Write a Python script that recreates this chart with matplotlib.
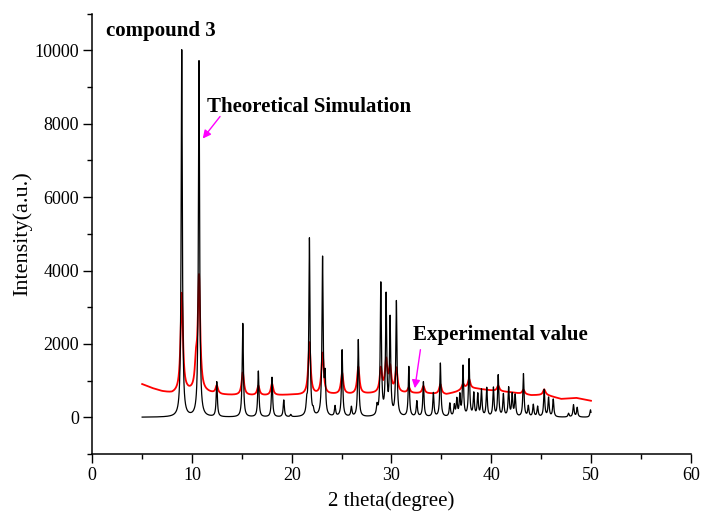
import numpy as np
import matplotlib
matplotlib.use("Agg")
import matplotlib.pyplot as plt
from matplotlib.ticker import MultipleLocator

plt.rcParams['font.family'] = ['Liberation Serif', 'DejaVu Serif']

# theoretical (simulated) pattern: peak positions (2theta) and heights
sim_pos = [8.97, 10.70, 12.48, 15.09, 16.65, 18.02, 19.20, 19.90, 21.50, 21.77,
           22.15, 23.09, 23.34, 24.34, 25.05, 25.98, 26.67, 28.55, 28.93, 29.46,
           29.86, 30.49, 31.74, 32.54, 33.20, 34.20, 34.90, 35.85, 36.30, 36.55,
           36.85, 37.17, 37.78, 38.25, 38.65, 39.02, 39.55, 40.22, 40.70, 41.22,
           41.75, 42.10, 42.40, 43.23, 43.72, 44.22, 44.65, 45.31, 45.75, 46.22,
           47.75, 48.25, 48.62, 49.95]
sim_int = [10000, 9700, 950, 2550, 1250, 1080, 460, 60, 300, 4850,
           120, 4300, 1000, 280, 1820, 260, 2100, 250, 3600, 3250,
           2620, 3120, 1360, 420, 950, 650, 1460, 360, 300, 460,
           560, 1360, 1550, 620, 600, 720, 780, 780, 1120, 600,
           780, 600, 580, 1170, 290, 330, 280, 740, 520, 480,
           100, 330, 260, 200]

# experimental pattern: background and peaks above it
bg_pos = [5, 6, 7, 8, 9.5, 11.5, 13, 14, 16, 18, 20, 22, 24, 26, 28, 30,
          32, 34, 35.5, 36.5, 37.5, 38.5, 40, 42, 44, 45.5, 47, 48.5, 50]
bg_int = [900, 790, 700, 640, 680, 660, 610, 600, 590, 590, 610, 600, 620, 620, 640, 660,
          650, 640, 620, 690, 790, 780, 730, 680, 600, 610, 500, 530, 450]
exp_pos = [8.97, 10.40, 10.70, 12.48, 15.09, 16.65, 18.02, 21.77, 23.09, 25.05,
           26.67, 28.93, 29.46, 29.86, 30.49, 31.74, 33.20, 34.90, 37.17, 37.78,
           40.70, 43.23, 45.31]
exp_int = [2700, 650, 3100, 220, 620, 260, 320, 1430, 1130, 580,
           740, 650, 850, 650, 650, 150, 200, 270, 150, 250,
           150, 120, 150]

x = np.linspace(5, 50, 4501)


def pattern(pos, amp, gam):
    y = np.zeros_like(x)
    for p, a in zip(pos, amp):
        y += a * gam ** 2 / ((x - p) ** 2 + gam ** 2)
    return y


y_sim = pattern(sim_pos, sim_int, 0.07)
y_exp = np.interp(x, bg_pos, bg_int) + pattern(exp_pos, exp_int, 0.14)

fig = plt.figure(figsize=(7.04, 5.12), dpi=100)
ax = fig.add_axes([0.1311, 0.1133, 0.85, 0.8601])

ax.plot(x, y_exp, color='red', lw=1.3)
ax.plot(x, y_sim, color='black', lw=0.9)

ax.set_xlim(0, 60)
ax.set_ylim(-1000, 11000)
ax.xaxis.set_major_locator(MultipleLocator(10))
ax.xaxis.set_minor_locator(MultipleLocator(5))
ax.yaxis.set_major_locator(MultipleLocator(2000))
ax.yaxis.set_minor_locator(MultipleLocator(1000))
ax.set_yticks([0, 2000, 4000, 6000, 8000, 10000])

for s in ['top', 'right']:
    ax.spines[s].set_visible(False)
for s in ['left', 'bottom']:
    ax.spines[s].set_linewidth(1.1)
ax.tick_params(which='major', direction='out', length=6.5, width=1.0, labelsize=13, pad=3)
ax.tick_params(which='minor', direction='out', length=3.3, width=1.0)

ax.set_xlabel('2 theta(degree)', fontsize=15)
ax.set_ylabel('Intensity(a.u.)', fontsize=16)
ax.xaxis.set_label_coords(0.5, -0.085)
ax.yaxis.set_label_coords(-0.1, 0.5)

ax.text(1.37, 10535, 'compound 3', fontsize=15, fontweight='bold', ha='left', va='center')
ax.text(11.53, 8463, 'Theoretical Simulation', fontsize=15, fontweight='bold', ha='left', va='center')
ax.text(32.2, 2236, 'Experimental value', fontsize=15, fontweight='bold', ha='left', va='center')

arrow = dict(arrowstyle='-|>', color='#ff00ff', lw=1.0, mutation_scale=12)
ax.annotate('', xy=(10.90, 7535), xytext=(12.98, 8255), arrowprops=arrow)
ax.annotate('', xy=(32.3, 717), xytext=(32.94, 1917), arrowprops=arrow)

fig.savefig('out.png', dpi=100)
